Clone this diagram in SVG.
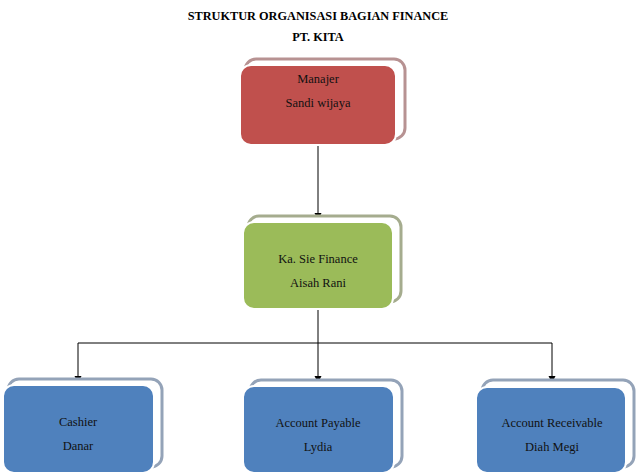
<svg xmlns="http://www.w3.org/2000/svg" width="636" height="476" viewBox="0 0 636 476">
<defs>
<style>
.t{font-family:"Liberation Serif","Times New Roman",serif;font-size:12.5px;fill:#111;text-anchor:middle}
.h{font-family:"Liberation Serif","Times New Roman",serif;font-size:12.3px;font-weight:bold;fill:#000;text-anchor:middle}
.back{fill:#fff;stroke-width:3}
.front{stroke:#fff;stroke-width:2}
.ln{fill:none;stroke:#000;stroke-width:1}
</style>
<marker id="ar" markerWidth="8" markerHeight="8" refX="7" refY="4" orient="auto" markerUnits="userSpaceOnUse">
<path d="M0,0.5 L7,4 L0,7.5 Z" fill="#000"/>
</marker>
</defs>
<rect width="636" height="476" fill="#fff"/>
<text class="h" x="318" y="20">STRUKTUR ORGANISASI BAGIAN FINANCE</text>
<text class="h" x="318" y="41">PT. KITA</text>
<g id="connectors">
<line class="ln" x1="318" y1="145" x2="318" y2="220" marker-end="url(#ar)"/>
<line class="ln" x1="318" y1="310" x2="318" y2="383" marker-end="url(#ar)"/>
<line class="ln" x1="78" y1="343" x2="552" y2="343"/>
<line class="ln" x1="78" y1="343" x2="78" y2="383" marker-end="url(#ar)"/>
<line class="ln" x1="552" y1="343" x2="552" y2="383" marker-end="url(#ar)"/>
</g>
<g id="manajer">
<rect class="back" x="245" y="59" width="160" height="80" rx="11" stroke="#B79292"/>
<rect class="front" x="240" y="65" width="156" height="80" rx="11" fill="#C0504D"/>
<text class="t" x="318" y="83">Manajer</text>
<text class="t" x="318" y="107">Sandi wijaya</text>
</g>
<g id="kasie">
<rect class="back" x="248" y="216" width="153" height="86" rx="11" stroke="#A5AC8E"/>
<rect class="front" x="243" y="222" width="150" height="87" rx="11" fill="#9BBB59"/>
<text class="t" x="318" y="263">Ka. Sie Finance</text>
<text class="t" x="318" y="287">Aisah Rani</text>
</g>
<g id="cashier">
<rect class="back" x="8" y="379" width="154" height="88" rx="11" stroke="#94A3B8"/>
<rect class="front" x="3" y="385" width="151" height="88" rx="11" fill="#4F81BD"/>
<text class="t" x="78" y="426">Cashier</text>
<text class="t" x="78" y="450">Danar</text>
</g>
<g id="payable">
<rect class="back" x="250" y="380" width="152" height="87" rx="11" stroke="#94A3B8"/>
<rect class="front" x="243" y="386" width="151" height="87" rx="11" fill="#4F81BD"/>
<text class="t" x="318" y="427">Account Payable</text>
<text class="t" x="318" y="451">Lydia</text>
</g>
<g id="receivable">
<rect class="back" x="482" y="380" width="152" height="87" rx="11" stroke="#94A3B8"/>
<rect class="front" x="476" y="387" width="150" height="86" rx="11" fill="#4F81BD"/>
<text class="t" x="552" y="427">Account Receivable</text>
<text class="t" x="552" y="451">Diah Megi</text>
</g>
</svg>
